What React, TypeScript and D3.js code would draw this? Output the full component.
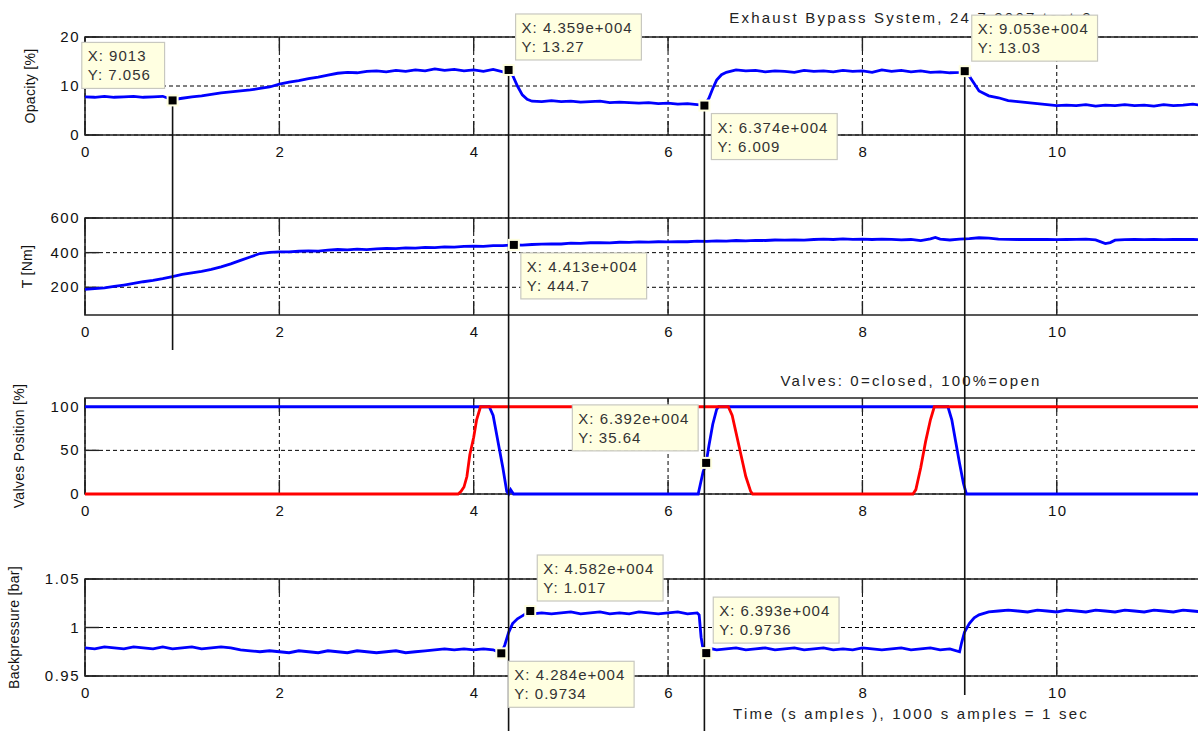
import * as d3 from 'd3';
import React from 'react';

// time axis is in 10^4 samples
const xTicks = [0, 2, 4, 6, 8, 10, 12, 14, 16];

const yLabels = ['Opacity [%]', 'T [Nm]', 'Valves Position [%]', 'Backpressure [bar]'];
const yDomains: [number, number][] = [[0, 20], [40, 600], [0, 110], [0.95, 1.05]];
const yTicks = [[0, 10, 20], [200, 400, 600], [0, 50, 100], [0.95, 1, 1.05]];
const yTickLabels = [['0', '10', '20'], ['200', '400', '600'], ['0', '50', '100'], ['0.95', '1', '1.05']];

const titleTop = 'Exhaust Bypass System, 24.7.2007 test 2';
const titleValves = 'Valves: 0=closed, 100%=open';
const xLabel = 'Time (s amples ), 1000 s amples = 1 sec';

const opacity: [number, number][] = [
  [0, 7.8], [0.1, 7.7], [0.2, 7.9], [0.3, 7.7], [0.4, 7.8], [0.5, 7.9], [0.6, 7.7], [0.7, 7.8], [0.8, 7.9], [0.9, 7.2],
  [1.0, 7.5], [1.1, 7.8], [1.2, 8.0], [1.3, 8.3], [1.4, 8.6], [1.5, 8.8], [1.6, 9.0], [1.7, 9.2], [1.8, 9.5], [1.9, 9.8],
  [2.0, 10.4], [2.1, 10.8], [2.2, 11.1], [2.3, 11.5], [2.4, 11.8], [2.5, 12.2], [2.6, 12.6], [2.7, 12.8], [2.8, 12.7], [2.9, 13.0],
  [3.0, 13.1], [3.1, 12.9], [3.2, 13.2], [3.3, 13.0], [3.4, 13.3], [3.5, 13.1], [3.6, 13.5], [3.7, 13.2], [3.8, 13.4], [3.9, 13.1],
  [4.0, 13.3], [4.1, 13.0], [4.2, 13.4], [4.3, 12.9], [4.359, 13.27], [4.4, 12.2], [4.45, 10.0], [4.5, 8.2], [4.55, 7.3], [4.6, 6.9],
  [4.7, 6.8], [4.8, 7.0], [4.9, 6.8], [5.0, 6.9], [5.1, 6.7], [5.2, 6.8], [5.3, 6.9], [5.4, 6.6], [5.5, 6.7], [5.6, 6.6],
  [5.7, 6.5], [5.8, 6.6], [5.9, 6.4], [6.0, 6.5], [6.1, 6.3], [6.2, 6.4], [6.3, 6.2], [6.374, 6.009], [6.42, 7.5], [6.46, 9.5],
  [6.5, 11.2], [6.55, 12.3], [6.6, 12.8], [6.7, 13.3], [6.8, 13.1], [6.9, 13.2], [7.0, 12.9], [7.1, 13.1], [7.2, 13.0], [7.3, 12.8],
  [7.4, 13.2], [7.5, 13.0], [7.6, 13.1], [7.7, 12.9], [7.8, 13.2], [7.9, 13.0], [8.0, 13.1], [8.1, 12.8], [8.2, 13.3], [8.3, 13.0],
  [8.4, 13.2], [8.5, 12.9], [8.6, 13.1], [8.7, 12.8], [8.8, 12.9], [8.9, 12.7], [9.0, 12.8], [9.053, 13.03], [9.1, 12.0], [9.15, 10.5],
  [9.2, 9.0], [9.3, 8.0], [9.4, 7.6], [9.5, 7.0], [9.6, 6.8], [9.7, 6.6], [9.8, 6.4], [9.9, 6.2], [10.0, 6.0], [10.1, 6.1],
  [10.2, 6.0], [10.3, 6.2], [10.4, 5.9], [10.5, 6.1], [10.6, 6.0], [10.7, 6.2], [10.8, 6.0], [10.9, 6.1], [11.0, 5.9], [11.1, 6.2],
  [11.2, 6.0], [11.3, 6.1], [11.4, 6.3], [11.5, 6.0], [11.6, 6.1],
];

const torque: [number, number][] = [
  [0, 188], [0.1, 192], [0.2, 197], [0.3, 205], [0.4, 213], [0.5, 222], [0.6, 232], [0.7, 240], [0.8, 250], [0.9, 262],
  [1.0, 275], [1.1, 283], [1.2, 292], [1.3, 303], [1.4, 318], [1.5, 335], [1.6, 355], [1.7, 375], [1.8, 395], [1.9, 402],
  [2.0, 405], [2.1, 404], [2.2, 408], [2.3, 410], [2.4, 409], [2.5, 414], [2.6, 418], [2.7, 416], [2.8, 420], [2.9, 418],
  [3.0, 422], [3.1, 425], [3.2, 423], [3.3, 427], [3.4, 426], [3.5, 430], [3.6, 429], [3.7, 433], [3.8, 432], [3.9, 436],
  [4.0, 438], [4.1, 436], [4.2, 441], [4.3, 440], [4.413, 444.7], [4.5, 443], [4.6, 447], [4.7, 449], [4.8, 451], [4.9, 450],
  [5.0, 455], [5.1, 454], [5.2, 457], [5.3, 458], [5.4, 456], [5.5, 460], [5.6, 459], [5.7, 462], [5.8, 461], [5.9, 463],
  [6.0, 462], [6.1, 464], [6.2, 463], [6.3, 466], [6.4, 465], [6.5, 468], [6.6, 467], [6.7, 470], [6.8, 468], [6.9, 471],
  [7.0, 470], [7.1, 473], [7.2, 472], [7.3, 474], [7.4, 472], [7.5, 476], [7.6, 478], [7.7, 476], [7.8, 479], [7.9, 477],
  [8.0, 478], [8.1, 476], [8.2, 478], [8.3, 477], [8.4, 474], [8.5, 476], [8.6, 470], [8.7, 480], [8.75, 488], [8.8, 478],
  [8.9, 473], [9.0, 478], [9.1, 481], [9.2, 486], [9.3, 484], [9.4, 478], [9.5, 477], [9.6, 476], [9.7, 477], [9.8, 476],
  [9.9, 477], [10.0, 475], [10.1, 476], [10.2, 477], [10.3, 478], [10.4, 474], [10.5, 452], [10.55, 458], [10.6, 472], [10.7, 475],
  [10.8, 476], [10.9, 475], [11.0, 476], [11.1, 475], [11.2, 476], [11.3, 477], [11.4, 476], [11.5, 475], [11.6, 476],
];

const valveBlue: [number, number][] = [
  [0, 100], [4.16, 100], [4.2, 90], [4.25, 60], [4.3, 30], [4.34, 3], [4.36, 0], [4.38, 5], [4.41, 0],
  [6.31, 0], [6.33, 10], [6.36, 25], [6.392, 35.64], [6.42, 55], [6.46, 80], [6.5, 97], [6.52, 100],
  [8.88, 100], [8.92, 85], [8.96, 60], [9.0, 35], [9.04, 12], [9.07, 0], [11.6, 0],
];

const valveRed: [number, number][] = [
  [0, 0], [3.84, 0], [3.87, 3], [3.9, 8], [3.93, 20], [3.96, 45], [4.0, 65], [4.03, 85], [4.07, 100],
  [6.62, 100], [6.66, 90], [6.7, 70], [6.75, 45], [6.8, 20], [6.85, 3], [6.87, 0],
  [8.52, 0], [8.55, 5], [8.6, 30], [8.65, 60], [8.7, 85], [8.74, 100], [11.6, 100],
];

const backpressure: [number, number][] = [
  [0, 0.979], [0.1, 0.978], [0.2, 0.980], [0.3, 0.979], [0.4, 0.978], [0.5, 0.980], [0.6, 0.979], [0.7, 0.978], [0.8, 0.980], [0.9, 0.978],
  [1.0, 0.979], [1.1, 0.980], [1.2, 0.978], [1.3, 0.979], [1.4, 0.980], [1.5, 0.979], [1.6, 0.977], [1.7, 0.976], [1.8, 0.975], [1.9, 0.976],
  [2.0, 0.975], [2.1, 0.974], [2.2, 0.976], [2.3, 0.975], [2.4, 0.974], [2.5, 0.976], [2.6, 0.975], [2.7, 0.974], [2.8, 0.976], [2.9, 0.975],
  [3.0, 0.974], [3.1, 0.975], [3.2, 0.976], [3.3, 0.974], [3.4, 0.975], [3.5, 0.976], [3.6, 0.977], [3.7, 0.978], [3.8, 0.977], [3.9, 0.978],
  [4.0, 0.977], [4.1, 0.978], [4.2, 0.977], [4.284, 0.9734], [4.32, 0.982], [4.36, 0.995], [4.4, 1.004], [4.45, 1.009], [4.5, 1.012], [4.582, 1.017],
  [4.6, 1.014], [4.7, 1.015], [4.8, 1.014], [4.9, 1.015], [5.0, 1.016], [5.1, 1.014], [5.2, 1.015], [5.3, 1.016], [5.4, 1.014], [5.5, 1.015],
  [5.6, 1.014], [5.7, 1.016], [5.8, 1.015], [5.9, 1.014], [6.0, 1.015], [6.1, 1.016], [6.2, 1.014], [6.3, 1.015], [6.32, 1.013], [6.34, 0.99],
  [6.36, 0.978], [6.393, 0.9736], [6.45, 0.978], [6.5, 0.977], [6.6, 0.978], [6.7, 0.979], [6.8, 0.977], [6.9, 0.978], [7.0, 0.979], [7.1, 0.977],
  [7.2, 0.978], [7.3, 0.979], [7.4, 0.977], [7.5, 0.978], [7.6, 0.979], [7.7, 0.977], [7.8, 0.978], [7.9, 0.977], [8.0, 0.979], [8.1, 0.978],
  [8.2, 0.977], [8.3, 0.978], [8.4, 0.979], [8.5, 0.977], [8.6, 0.978], [8.7, 0.979], [8.8, 0.977], [8.9, 0.978], [9.0, 0.975], [9.02, 0.984],
  [9.05, 0.995], [9.1, 1.004], [9.15, 1.010], [9.2, 1.013], [9.3, 1.016], [9.4, 1.017], [9.5, 1.018], [9.6, 1.017], [9.7, 1.016], [9.8, 1.018],
  [9.9, 1.017], [10.0, 1.016], [10.1, 1.018], [10.2, 1.017], [10.3, 1.016], [10.4, 1.018], [10.5, 1.017], [10.6, 1.016], [10.7, 1.018], [10.8, 1.017],
  [10.9, 1.016], [11.0, 1.018], [11.1, 1.017], [11.2, 1.016], [11.3, 1.018], [11.4, 1.017], [11.5, 1.016], [11.6, 1.017],
];

// data tips: panel, x, y, texts, placement
const tips = [
  { panel: 0, x: 0.9013, y: 7.056, tx: 'X: 9013', ty: 'Y: 7.056', dir: 'ul' },
  { panel: 0, x: 4.359, y: 13.27, tx: 'X: 4.359e+004', ty: 'Y: 13.27', dir: 'ur' },
  { panel: 0, x: 6.374, y: 6.009, tx: 'X: 6.374e+004', ty: 'Y: 6.009', dir: 'dr' },
  { panel: 0, x: 9.053, y: 13.03, tx: 'X: 9.053e+004', ty: 'Y: 13.03', dir: 'ur' },
  { panel: 1, x: 4.413, y: 444.7, tx: 'X: 4.413e+004', ty: 'Y: 444.7', dir: 'dr' },
  { panel: 2, x: 6.392, y: 35.64, tx: 'X: 6.392e+004', ty: 'Y: 35.64', dir: 'ul' },
  { panel: 3, x: 4.582, y: 1.017, tx: 'X: 4.582e+004', ty: 'Y: 1.017', dir: 'ur' },
  { panel: 3, x: 4.284, y: 0.9734, tx: 'X: 4.284e+004', ty: 'Y: 0.9734', dir: 'dr' },
  { panel: 3, x: 6.393, y: 0.9736, tx: 'X: 6.393e+004', ty: 'Y: 0.9736', dir: 'ur' },
];

// vertical marker lines start at the opacity tips (index into tips)
const crossTips = [0, 1, 2, 3];

// layout
const W = 1198;
const H = 731;
const left = 85;
const right = 1737;
const panels = [
  { top: 37, bottom: 135 },
  { top: 218, bottom: 315 },
  { top: 398, bottom: 494 },
  { top: 579, bottom: 676 },
];
const crossEnd = [350, H, H, 695];
const yLabelX = [35, 32, 24, 19];
const font = '"Liberation Sans", Arial, Helvetica, sans-serif';
const tickLen = 14;

const x = d3.scaleLinear().domain([0, 17]).range([left, right]);
const ys = panels.map((p, i) => d3.scaleLinear().domain(yDomains[i]).range([p.bottom, p.top]));
const visibleXTicks = xTicks.filter((t) => x(t) < W - 20);

const App = () => {
  const seriesByPanel: { data: [number, number][]; color: string }[][] = [
    [{ data: opacity, color: '#0000ff' }],
    [{ data: torque, color: '#0000ff' }],
    [{ data: valveBlue, color: '#0000ff' }, { data: valveRed, color: '#ff0000' }],
    [{ data: backpressure, color: '#0000ff' }],
  ];

  return (
    <div style={{ position: 'fixed', left: 0, top: 0, width: W, height: H, overflow: 'hidden', background: '#fff' }}>
      <svg width={W} height={H} style={{ display: 'block', fontFamily: font }}>
        <rect width={W} height={H} fill="#fff" />
        {panels.map((p, i) => {
          const y = ys[i];
          const line = d3
            .line<[number, number]>()
            .x((d) => x(d[0]))
            .y((d) => y(d[1]));
          return (
            <g key={i}>
              {/* grid */}
              {visibleXTicks.map((t) => (
                <line key={'gx' + t} x1={x(t)} x2={x(t)} y1={p.top} y2={p.bottom} stroke="#000" strokeWidth={1} strokeDasharray="4,3" />
              ))}
              {yTicks[i].map((t) => (
                <line key={'gy' + t} x1={left} x2={W} y1={y(t)} y2={y(t)} stroke="#000" strokeWidth={1} strokeDasharray="4,3" />
              ))}
              {/* ticks */}
              {visibleXTicks.map((t) => (
                <g key={'tx' + t}>
                  <line x1={x(t)} x2={x(t)} y1={p.bottom} y2={p.bottom - tickLen} stroke="#222" strokeWidth={1.4} />
                  <line x1={x(t)} x2={x(t)} y1={p.top} y2={p.top + tickLen} stroke="#222" strokeWidth={1.4} />
                  <text x={x(t) + 1} y={p.bottom + 22} fontSize={15} letterSpacing={1.5} textAnchor="middle" fill="#111">
                    {t}
                  </text>
                </g>
              ))}
              {yTicks[i].map((t, k) => (
                <g key={'ty' + t}>
                  <line x1={left} x2={left + tickLen} y1={y(t)} y2={y(t)} stroke="#222" strokeWidth={1.4} />
                  <text x={left - 5} y={y(t) + 5} fontSize={15} letterSpacing={1.5} textAnchor="end" fill="#111">
                    {yTickLabels[i][k]}
                  </text>
                </g>
              ))}
              {/* box */}
              <path d={`M${W},${p.top}H${left}V${p.bottom}H${W}`} fill="none" stroke="#222" strokeWidth={1.6} />
              <text
                transform={`translate(${yLabelX[i]},${(p.top + p.bottom) / 2}) rotate(-90)`}
                fontSize={14}
                letterSpacing={0.3}
                textAnchor="middle"
                fill="#111"
              >
                {yLabels[i]}
              </text>
              {seriesByPanel[i].map((s, k) => (
                <path key={k} d={line(s.data) || ''} fill="none" stroke={s.color} strokeWidth={2.8} />
              ))}
            </g>
          );
        })}

        <text x={(left + right) / 2} y={23} fontSize={15} letterSpacing={2.2} textAnchor="middle" fill="#222">
          {titleTop}
        </text>
        <text x={(left + right) / 2} y={386} fontSize={15} letterSpacing={2.2} textAnchor="middle" fill="#222">
          {titleValves}
        </text>
        <text x={(left + right) / 2} y={719} fontSize={15} letterSpacing={2.2} textAnchor="middle" fill="#222">
          {xLabel}
        </text>

        {/* vertical marker lines */}
        {crossTips.map((ti, k) => {
          const t = tips[ti];
          return (
            <line
              key={'c' + k}
              x1={x(t.x)}
              x2={x(t.x)}
              y1={ys[t.panel](t.y)}
              y2={crossEnd[k]}
              stroke="#111"
              strokeWidth={1.6}
            />
          );
        })}

        {/* data tips */}
        {tips.map((t, k) => {
          const mx = x(t.x);
          const my = ys[t.panel](t.y);
          const bw = Math.max(t.tx.length, t.ty.length) * 8.6 + 14;
          const bh = 46;
          let bx = mx + 7;
          let by = my - 10 - bh;
          if (t.dir === 'ul') {
            bx = mx - 8 - bw;
            by = my - 12 - bh;
          } else if (t.dir === 'dr') {
            by = my + 8;
          }
          return (
            <g key={'tip' + k}>
              <rect x={mx - 5} y={my - 5} width={10} height={10} fill="#000" stroke="#ffffe1" strokeWidth={2} />
              <rect x={bx} y={by} width={bw} height={bh} fill="#ffffe1" stroke="#c8c8c0" strokeWidth={1.2} />
              <text x={bx + 6} y={by + 19} fontSize={15} letterSpacing={1} fill="#333">
                {t.tx}
              </text>
              <text x={bx + 6} y={by + 38} fontSize={15} letterSpacing={1} fill="#333">
                {t.ty}
              </text>
            </g>
          );
        })}
      </svg>
    </div>
  );
};

export default App;
